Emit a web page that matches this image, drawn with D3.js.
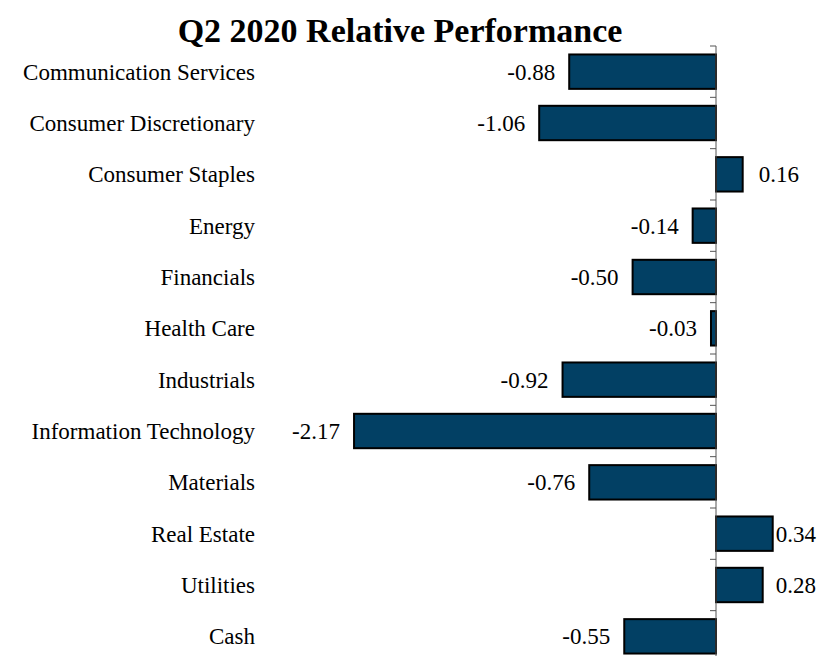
<!DOCTYPE html>
<html lang="en">
<head>
    <meta charset="UTF-8">
    <title>Q2 2020 Relative Performance</title>
    <script src="https://d3js.org/d3.v7.min.js"></script>
    <style>
        body { margin: 0; background: #fff; }
        svg { display: block; }
        text { font-family: "Liberation Serif", "DejaVu Serif", serif; fill: #000; }
    </style>
</head>
<body>
    <div id="chart"></div>
    <script>
        const categories = ["Communication Services", "Consumer Discretionary", "Consumer Staples", "Energy",
            "Financials", "Health Care", "Industrials", "Information Technology", "Materials",
            "Real Estate", "Utilities", "Cash"];
        const values = [-0.88, -1.06, 0.16, -0.14, -0.50, -0.03, -0.92, -2.17, -0.76, 0.34, 0.28, -0.55];

        const W = 818, H = 656;
        const zeroX = 716, unit = 166.8;

        const svg = d3.select("#chart").append("svg")
            .attr("width", W)
            .attr("height", H);

        const x = d3.scaleLinear().domain([0, 1]).range([zeroX, zeroX + unit]);
        const y = d3.scaleBand().domain(categories).range([46, 662]).paddingInner(0.33).paddingOuter(0.165);

        // Title
        svg.append("text")
            .attr("x", 400)
            .attr("y", 42)
            .attr("text-anchor", "middle")
            .style("font-size", "34px")
            .style("font-weight", "bold")
            .text("Q2 2020 Relative Performance");

        // Bars
        svg.selectAll(".bar")
            .data(values)
            .enter()
            .append("rect")
            .attr("class", "bar")
            .attr("x", d => x(Math.min(0, d)))
            .attr("y", (d, i) => y(categories[i]))
            .attr("width", d => Math.abs(x(d) - x(0)))
            .attr("height", y.bandwidth())
            .attr("fill", "#024064")
            .attr("stroke", "#000")
            .attr("stroke-width", 2);

        // Axis at zero with ticks between categories
        const tickYs = d3.range(categories.length + 1).map(i => 46 + i * y.step());
        svg.append("line")
            .attr("x1", x(0)).attr("x2", x(0))
            .attr("y1", 46).attr("y2", H)
            .attr("stroke", "#555").attr("stroke-width", 1);
        svg.selectAll(".tick")
            .data(tickYs)
            .enter()
            .append("line")
            .attr("x1", x(0) - 6).attr("x2", x(0))
            .attr("y1", d => d).attr("y2", d => d)
            .attr("stroke", "#555").attr("stroke-width", 1);

        // Category labels
        svg.selectAll(".cat")
            .data(categories)
            .enter()
            .append("text")
            .attr("x", 255)
            .attr("y", d => y(d) + y.bandwidth() / 2)
            .attr("dy", "0.35em")
            .attr("text-anchor", "end")
            .style("font-size", "23px")
            .text(d => d);

        // Value labels (kept inside the plot on the right)
        svg.selectAll(".val")
            .data(values)
            .enter()
            .append("text")
            .attr("y", (d, i) => y(categories[i]) + y.bandwidth() / 2)
            .attr("dy", "0.35em")
            .style("font-size", "23px")
            .text(d => d.toFixed(2))
            .each(function(d) {
                const t = d3.select(this);
                const w = this.getComputedTextLength();
                if (d < 0) {
                    t.attr("x", x(d) - 14).attr("text-anchor", "end");
                } else {
                    t.attr("x", Math.min(x(d) + 16, W - 2 - w)).attr("text-anchor", "start");
                }
            });
    </script>
</body>
</html>
